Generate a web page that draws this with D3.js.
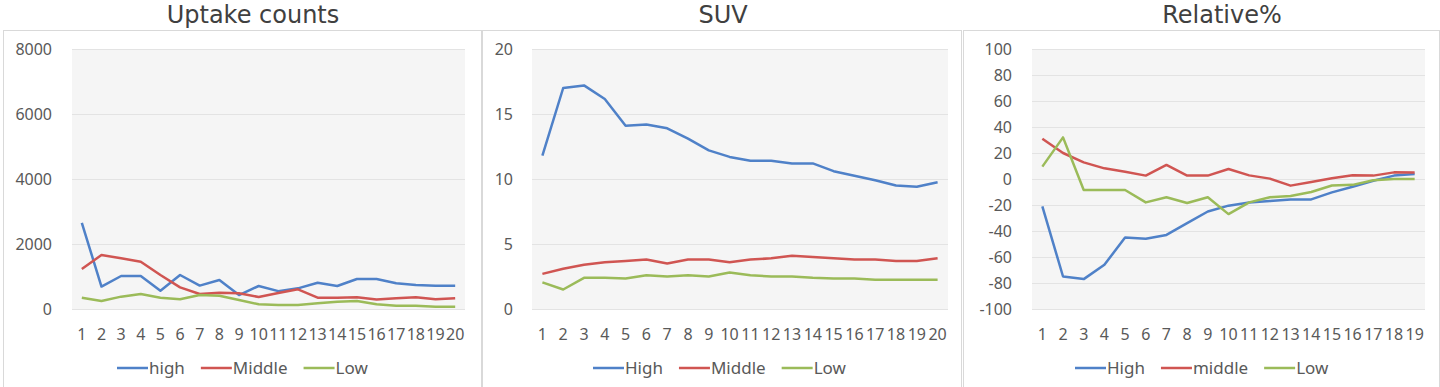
<!DOCTYPE html>
<html>
<head>
<meta charset="utf-8">
<script src="https://cdn.jsdelivr.net/npm/d3@7"></script>
<style>
  html, body { margin: 0; padding: 0; background: #ffffff; }
  svg { display: block; }
</style>
</head>
<body>
<svg id="chart" width="1440" height="387"></svg>
<script>
// ---------------- DATA ----------------
const uptakeCats = ["1","2","3","4","5","6","7","8","9","10","11","12","13","14","15","16","17","18","19","20"];
const uptakeHigh   = [2650, 690, 1015, 1015, 560, 1046, 720, 892, 430, 708, 550, 636, 810, 708, 923, 923, 790, 740, 718, 718];
const uptakeMiddle = [1230, 1660, 1560, 1455, 1046, 667, 461, 500, 482, 370, 490, 605, 350, 350, 360, 290, 330, 360, 298, 330];
const uptakeLow    = [348, 246, 380, 460, 348, 298, 430, 410, 277, 144, 123, 123, 175, 225, 246, 144, 103, 103, 72, 72];
const uptakeTicks  = [0, 2000, 4000, 6000, 8000];

const suvCats = ["1","2","3","4","5","6","7","8","9","10","11","12","13","14","15","16","17","18","19","20"];
const suvHigh   = [11.8, 17.0, 17.2, 16.15, 14.1, 14.2, 13.9, 13.1, 12.2, 11.7, 11.4, 11.4, 11.2, 11.2, 10.6, 10.25, 9.9, 9.5, 9.4, 9.75];
const suvMiddle = [2.7, 3.1, 3.4, 3.6, 3.7, 3.8, 3.5, 3.8, 3.8, 3.6, 3.8, 3.9, 4.1, 4.0, 3.9, 3.8, 3.8, 3.7, 3.7, 3.9];
const suvLow    = [2.05, 1.5, 2.4, 2.4, 2.35, 2.6, 2.5, 2.6, 2.5, 2.8, 2.6, 2.5, 2.5, 2.4, 2.35, 2.35, 2.25, 2.25, 2.25, 2.25];
const suvTicks  = [0, 5, 10, 15, 20];

const relCats = ["1","2","3","4","5","6","7","8","9","10","11","12","13","14","15","16","17","18","19"];
const relHigh   = [-21, -75, -77, -66, -45, -46, -43, -34, -25, -20.5, -18, -17, -15.7, -15.7, -10.3, -6, -1.3, 2.6, 3.8];
const relMiddle = [31, 20, 12.8, 8.2, 5.6, 2.6, 10.8, 2.6, 2.6, 7.7, 2.8, 0.3, -5.1, -2.3, 0.5, 2.8, 2.6, 5.1, 5];
const relLow    = [9.5, 32, -8.5, -8.5, -8.5, -18, -14, -18.5, -14, -27, -18, -14, -13, -10, -5, -4.5, -1, 0, 0];
const relTicks  = [-100, -80, -60, -40, -20, 0, 20, 40, 60, 80, 100];

const titles = ["Uptake counts", "SUV", "Relative%"];
const legend1 = ["high", "Middle", "Low"];
const legend2 = ["High", "Middle", "Low"];
const legend3 = ["High", "middle", "Low"];
const colors = ["#4f81c8", "#d05552", "#9bbb59"];

// ---------------- DRAW ----------------
const svg = d3.select("#chart");
const fontFam = "'Noto Sans', 'Open Sans', 'DejaVu Sans', sans-serif";
const titleFam = "'DejaVu Sans', 'Noto Sans', sans-serif";
const fmt = d => String(d).replace("\u2212", "-");

const panels = [
  { title: titles[0], titleX: 253, frame: [3, 481], plot: [72, 465], labelX: 52,
    cats: uptakeCats, series: [uptakeHigh, uptakeMiddle, uptakeLow], ticks: uptakeTicks,
    domain: [0, 8000], legend: legend1, legendX: 117 },
  { title: titles[1], titleX: 723, frame: [482, 961], plot: [532, 948], labelX: 513,
    cats: suvCats, series: [suvHigh, suvMiddle, suvLow], ticks: suvTicks,
    domain: [0, 20], legend: legend2, legendX: 593 },
  { title: titles[2], titleX: 1222, frame: [963, 1439], plot: [1032, 1425], labelX: 1012,
    cats: relCats, series: [relHigh, relMiddle, relLow], ticks: relTicks,
    domain: [-100, 100], legend: legend3, legendX: 1075 }
];

const plotTop = 49, plotBottom = 309;

panels.forEach(p => {
  const g = svg.append("g");

  // title
  g.append("text")
    .attr("x", p.titleX).attr("y", 23)
    .attr("text-anchor", "middle")
    .attr("font-family", titleFam)
    .attr("font-size", 24)
    .attr("fill", "#404040")
    .text(p.title);

  // frame
  g.append("rect")
    .attr("x", p.frame[0] + 0.5).attr("y", 30.5)
    .attr("width", p.frame[1] - p.frame[0]).attr("height", 400)
    .attr("fill", "#ffffff").attr("stroke", "#d9d9d9").attr("stroke-width", 1);

  // scales
  const x = d3.scaleBand().domain(p.cats).range(p.plot).paddingInner(0).paddingOuter(0);
  const y = d3.scaleLinear().domain(p.domain).range([plotBottom, plotTop]);

  // plot background
  g.append("rect")
    .attr("x", p.plot[0]).attr("y", plotTop)
    .attr("width", p.plot[1] - p.plot[0]).attr("height", plotBottom - plotTop)
    .attr("fill", "#f5f5f5");

  // gridlines
  g.append("g").selectAll("line").data(p.ticks).join("line")
    .attr("x1", p.plot[0]).attr("x2", p.plot[1])
    .attr("y1", d => Math.round(y(d)) + 0.5).attr("y2", d => Math.round(y(d)) + 0.5)
    .attr("stroke", "#e3e3e3").attr("stroke-width", 1);

  // y axis labels
  const yAxis = d3.axisLeft(y).tickValues(p.ticks).tickSize(0).tickPadding(0).tickFormat(d => fmt(d));
  const ya = g.append("g").attr("transform", `translate(${p.labelX},0)`).call(yAxis);
  ya.select(".domain").remove();
  ya.selectAll("text")
    .attr("font-family", fontFam).attr("font-size", 16).attr("fill", "#595959")
    .attr("dy", "0.35em");

  // x axis labels
  const xAxis = d3.axisBottom(x).tickSize(0).tickPadding(0);
  const xa = g.append("g").attr("transform", `translate(0,329)`).call(xAxis);
  xa.select(".domain").remove();
  xa.selectAll("text")
    .attr("font-family", fontFam).attr("font-size", 16).attr("fill", "#595959");

  // lines
  const line = d3.line()
    .x((d, i) => x(p.cats[i]) + x.bandwidth() / 2)
    .y(d => y(d));
  p.series.forEach((s, k) => {
    g.append("path")
      .datum(s)
      .attr("d", line)
      .attr("fill", "none")
      .attr("stroke", colors[k])
      .attr("stroke-width", 2.5)
      .attr("stroke-linejoin", "round");
  });

  // legend
  const lg = g.append("g").attr("transform", `translate(${p.legendX},368)`);
  let cx = 0;
  p.legend.forEach((name, k) => {
    lg.append("line")
      .attr("x1", cx).attr("x2", cx + 31).attr("y1", 0).attr("y2", 0)
      .attr("stroke", colors[k]).attr("stroke-width", 2.5);
    const t = lg.append("text")
      .attr("x", cx + 32).attr("y", 0).attr("dy", "0.35em")
      .attr("font-family", fontFam).attr("font-size", 17).attr("fill", "#595959")
      .text(name);
    const w = t.node().getComputedTextLength();
    cx += 32 + w + 16;
  });
});
</script>
</body>
</html>
